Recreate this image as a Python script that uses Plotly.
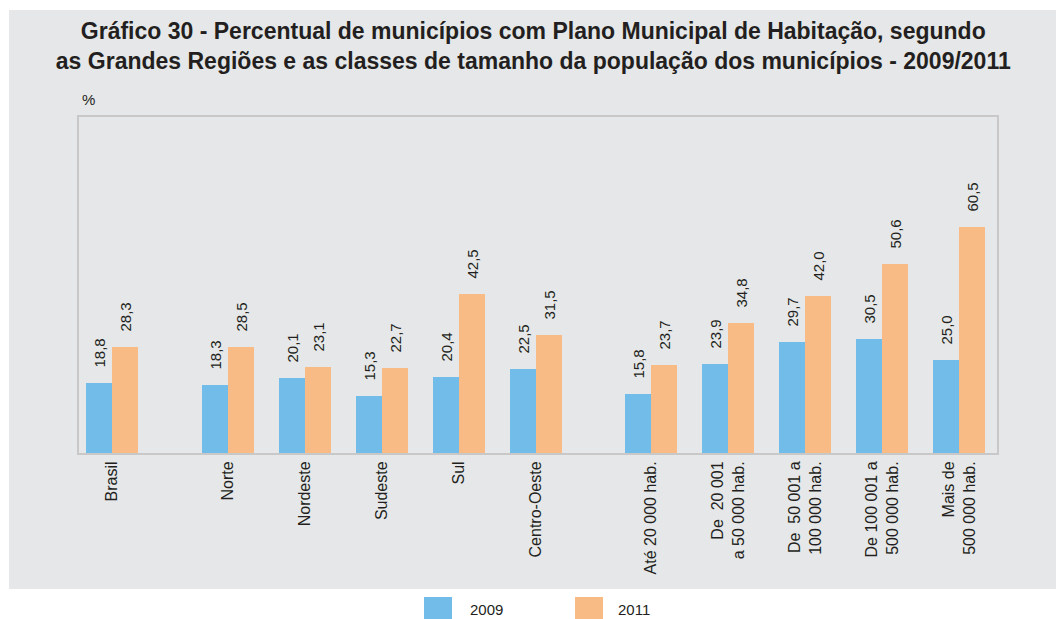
import plotly.graph_objects as go

# ---- data ----
categories = [
    "Brasil",
    "Norte", "Nordeste", "Sudeste", "Sul", "Centro-Oeste",
    "Até 20 000 hab.",
    "De\u00a0 20 001<br>a 50 000 hab.",
    "De\u00a0 50 001 a<br>100 000 hab.",
    "De 100 001 a<br>500 000 hab.",
    "Mais de<br>500 000 hab.",
]
values_2009 = [18.8, 18.3, 20.1, 15.3, 20.4, 22.5, 15.8, 23.9, 29.7, 30.5, 25.0]
values_2011 = [28.3, 28.5, 23.1, 22.7, 42.5, 31.5, 23.7, 34.8, 42.0, 50.6, 60.5]
series_names = ["2009", "2011"]

# ---- layout helpers (group spacing: wider gaps between blocks) ----
gaps = [0, 1.5, 1, 1, 1, 1, 1.5, 1, 1, 1, 1]
slot_pos = []
acc = 0.0
for g in gaps:
    acc += g
    slot_pos.append(acc)

BLUE = "#71bce8"
ORANGE = "#f9bb85"
GRAY = "#e6e7e8"
TXT = "#231f20"
FONT = "Liberation Sans, Arial, Helvetica, sans-serif"

W, H = 1056, 619
L, R, T, B = 79, 59, 117, 166
PW, PH = W - L - R, H - T - B


def px_x(p):
    return (p - L) / PW


def px_y(p):
    return (H - B - p) / PH


bw = 0.338
fig = go.Figure()
for name, vals, col, off in [(series_names[0], values_2009, BLUE, -bw),
                             (series_names[1], values_2011, ORANGE, 0.0)]:
    fig.add_trace(go.Bar(
        x=slot_pos, y=vals, name=name, marker=dict(color=col, line=dict(width=0)),
        width=bw, offset=off,
        texttemplate="\u00a0\u00a0\u00a0%{y:.1f}",
        textposition="outside", textangle=-90, constraintext="none",
        cliponaxis=False,
        textfont=dict(family=FONT, size=15, color=TXT),
        showlegend=False, hoverinfo="skip",
    ))

shapes = [
    dict(type="rect", xref="paper", yref="paper",
         x0=px_x(9), x1=px_x(1060), y0=px_y(589), y1=px_y(10),
         fillcolor=GRAY, line=dict(width=0), layer="below"),
    dict(type="rect", xref="paper", yref="paper",
         x0=px_x(424), x1=px_x(452), y0=px_y(620), y1=px_y(597),
         fillcolor=BLUE, line=dict(width=0)),
    dict(type="rect", xref="paper", yref="paper",
         x0=px_x(575), x1=px_x(603), y0=px_y(620), y1=px_y(597),
         fillcolor=ORANGE, line=dict(width=0)),
]

annotations = [
    dict(text="%", xref="paper", yref="paper", x=px_x(80), y=px_y(100),
         xanchor="left", yanchor="middle", showarrow=False,
         font=dict(family=FONT, size=15, color=TXT)),
    dict(text=series_names[0], xref="paper", yref="paper", x=px_x(468), y=px_y(609),
         xanchor="left", yanchor="middle", showarrow=False,
         font=dict(family=FONT, size=15, color=TXT)),
    dict(text=series_names[1], xref="paper", yref="paper", x=px_x(616), y=px_y(609),
         xanchor="left", yanchor="middle", showarrow=False,
         font=dict(family=FONT, size=15, color=TXT)),
]

fig.update_layout(
    width=W, height=H,
    margin=dict(l=L, r=R, t=T, b=B, autoexpand=False),
    paper_bgcolor="white", plot_bgcolor="white",
    separators=",.",
    title=dict(
        text="<b>Gráfico 30 - Percentual de municípios com Plano Municipal de Habitação, segundo<br>"
             "as Grandes Regiões e as classes de tamanho da população dos municípios - 2009/2011</b>",
        x=0.505, xanchor="center", y=1 - 39 / H, yanchor="middle",
        font=dict(family=FONT, size=23, color=TXT),
    ),
    shapes=shapes, annotations=annotations,
    showlegend=False,
    bargap=0, bargroupgap=0,
)
fig.update_xaxes(
    range=[-0.4286, 11.49], tickmode="array", tickvals=slot_pos, ticktext=categories,
    tickangle=-90, ticks="", showgrid=False, zeroline=False,
    showline=True, mirror=True, linecolor="#c8c8c8", linewidth=2,
    tickfont=dict(family=FONT, size=16, color=TXT), fixedrange=True,
)
fig.update_yaxes(
    range=[0, 90], showticklabels=False, ticks="", showgrid=False, zeroline=False,
    showline=True, mirror=True, linecolor="#c8c8c8", linewidth=2, fixedrange=True,
)

fig.write_html("out.html", config={"displayModeBar": False},
               post_script="document.body.style.margin='0';")
